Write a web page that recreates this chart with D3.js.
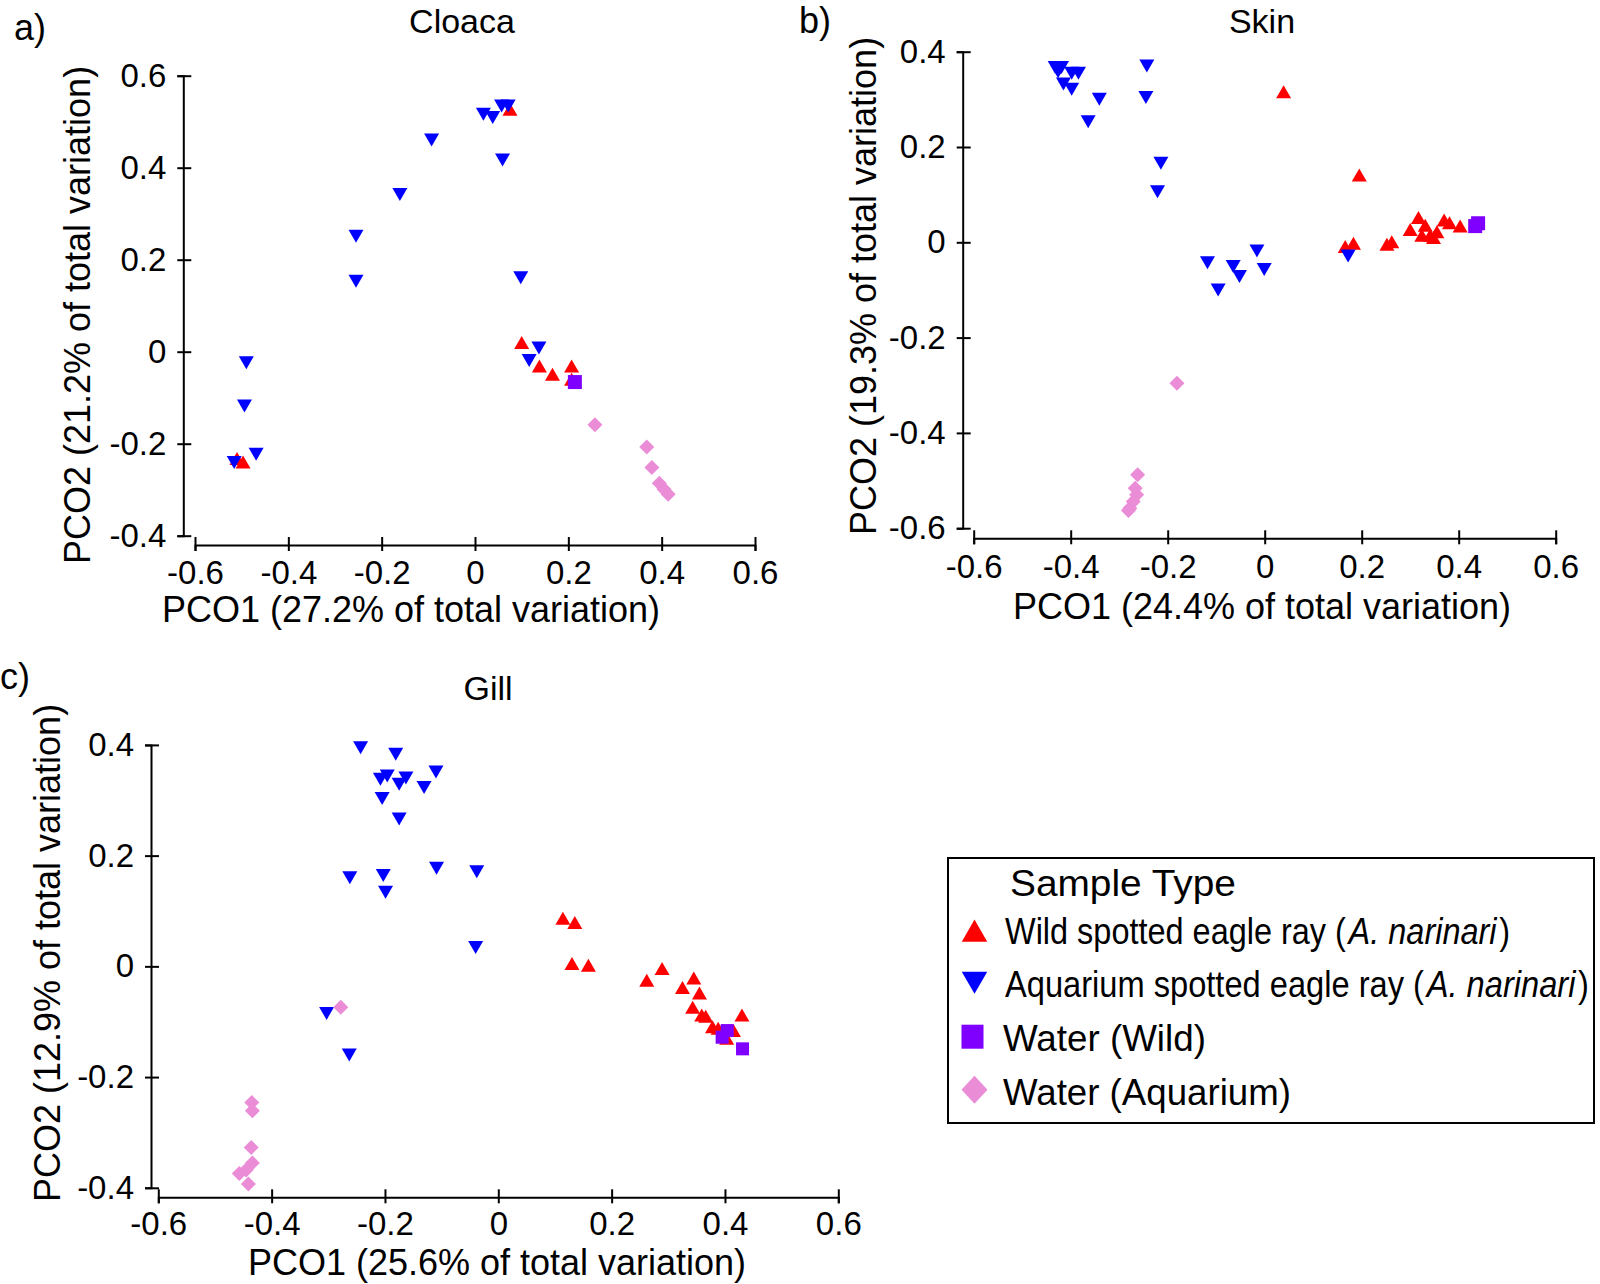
<!DOCTYPE html>
<html><head><meta charset="utf-8">
<script src="https://cdn.jsdelivr.net/npm/d3@7"></script>
<style>
html,body{margin:0;padding:0;background:#fff;}
svg{display:block;}
text{font-family:"Liberation Sans",Arial,Helvetica,sans-serif;fill:#000;}
</style></head>
<body>
<svg id="chart" width="1600" height="1284"></svg>
<script>
// ---------- DATA ----------
const groups = ["Wild spotted eagle ray", "Aquarium spotted eagle ray", "Water (Wild)", "Water (Aquarium)"];
const groupColors = ["#ff0000", "#0000ff", "#7f00ff", "#eb8cd7"];
const xTicks = [-0.6, -0.4, -0.2, 0, 0.2, 0.4, 0.6];
const yTicksCloaca = [-0.4, -0.2, 0, 0.2, 0.4, 0.6];
const yTicksSkin = [-0.6, -0.4, -0.2, 0, 0.2, 0.4];
const yTicksGill = [-0.4, -0.2, 0, 0.2, 0.4];

const cloacaWild = [[0.075,0.527],[-0.51,-0.232],[-0.497,-0.24],[0.1,0.02],[0.138,-0.031],[0.166,-0.049],[0.207,-0.031],[0.207,-0.06]];
const cloacaAquarium = [[-0.093,0.46],[-0.161,0.342],[-0.255,0.251],[-0.255,0.153],[0.018,0.516],[0.038,0.509],[0.057,0.534],[0.071,0.534],[0.059,0.417],[0.098,0.161],[-0.49,-0.024],[-0.494,-0.118],[-0.469,-0.223],[-0.516,-0.241],[0.137,0.008],[0.116,-0.019]];
const cloacaWaterWild = [[0.214,-0.066]];
const cloacaWaterAquarium = [[0.257,-0.159],[0.368,-0.207],[0.379,-0.252],[0.395,-0.286],[0.405,-0.299],[0.414,-0.31]];

const skinWild = [[0.039,0.316],[0.195,0.141],[0.166,-0.009],[0.183,-0.002],[0.252,-0.004],[0.262,0.001],[0.3,0.027],[0.317,0.052],[0.331,0.036],[0.324,0.015],[0.341,0.015],[0.348,0.01],[0.355,0.022],[0.37,0.047],[0.381,0.041],[0.403,0.034]];
const skinAquarium = [[-0.432,0.367],[-0.419,0.367],[-0.426,0.358],[-0.398,0.355],[-0.384,0.355],[-0.415,0.332],[-0.398,0.321],[-0.341,0.3],[-0.364,0.253],[-0.243,0.37],[-0.245,0.304],[-0.214,0.166],[-0.221,0.106],[-0.118,-0.043],[-0.096,-0.1],[-0.065,-0.051],[-0.052,-0.072],[-0.016,-0.018],[-0.001,-0.057],[0.172,-0.029]];
const skinWaterWild = [[0.434,0.034],[0.44,0.04]];
const skinWaterAquarium = [[-0.181,-0.296],[-0.262,-0.488],[-0.267,-0.516],[-0.264,-0.53],[-0.271,-0.544],[-0.278,-0.558],[-0.281,-0.563]];

const gillWild = [[0.114,0.087],[0.135,0.079],[0.13,0.005],[0.159,0.002],[0.262,-0.025],[0.289,-0.004],[0.325,-0.038],[0.345,-0.021],[0.355,-0.048],[0.343,-0.074],[0.359,-0.088],[0.366,-0.09],[0.378,-0.109],[0.388,-0.112],[0.415,-0.116],[0.403,-0.13],[0.43,-0.088]];
const gillAquarium = [[-0.243,0.395],[-0.181,0.383],[-0.11,0.351],[-0.208,0.338],[-0.196,0.344],[-0.163,0.34],[-0.175,0.329],[-0.131,0.323],[-0.205,0.303],[-0.175,0.266],[-0.262,0.16],[-0.203,0.164],[-0.199,0.134],[-0.109,0.177],[-0.038,0.171],[-0.04,0.034],[-0.303,-0.085],[-0.263,-0.16]];
const gillWaterWild = [[0.404,-0.116],[0.395,-0.128],[0.431,-0.149]];
const gillWaterAquarium = [[-0.278,-0.074],[-0.435,-0.246],[-0.434,-0.261],[-0.436,-0.327],[-0.434,-0.355],[-0.445,-0.368],[-0.457,-0.374],[-0.441,-0.393]];

// ---------- LAYOUT ----------
const svg = d3.select("#chart");
const panels = [
  {label:"a)", title:"Cloaca", xTitle:"PCO1 (27.2% of total variation)", yTitle:"PCO2 (21.2% of total variation)",
   yTicks:yTicksCloaca, yDomain:[-0.4,0.6], xRange:[195,755], yRange:[535.7,75.7], axisX:183.3, axisY:545,
   data:[cloacaWild,cloacaAquarium,cloacaWaterWild,cloacaWaterAquarium], sq:14,
   labelPos:[14,40], titlePos:[462,33], xTitlePos:[411,622], yTitlePos:[77,315], xPad:10},
  {label:"b)", title:"Skin", xTitle:"PCO1 (24.4% of total variation)", yTitle:"PCO2 (19.3% of total variation)",
   yTicks:yTicksSkin, yDomain:[-0.6,0.4], xRange:[973.7,1555.7], yRange:[528.2,51.7], axisX:962.7, axisY:538.3,
   data:[skinWild,skinAquarium,skinWaterWild,skinWaterAquarium], sq:14,
   labelPos:[799,33], titlePos:[1262,33], xTitlePos:[1262,619], yTitlePos:[863,286], xPad:10},
  {label:"c)", title:"Gill", xTitle:"PCO1 (25.6% of total variation)", yTitle:"PCO2 (12.9% of total variation)",
   yTicks:yTicksGill, yDomain:[-0.4,0.4], xRange:[158.3,838.3], yRange:[1187.8,744.9], axisX:151, axisY:1197.3,
   data:[gillWild,gillAquarium,gillWaterWild,gillWaterAquarium], sq:13,
   labelPos:[0,689], titlePos:[488,700], xTitlePos:[497,1275], yTitlePos:[47,953], xPad:8}
];

function fmt(d){ return d === 0 ? "0" : String(d); }

function markerPath(type, s){
  if (type === 0) { const w=15*s/2, h=13*s/2; return `M0,${-h}L${w},${h}L${-w},${h}Z`; }
  if (type === 1) { const w=15*s/2, h=13*s/2; return `M0,${h}L${w},${-h}L${-w},${-h}Z`; }
  if (type === 3) { const w=15*s/2, h=15*s/2; return `M0,${-h}L${w},0L0,${h}L${-w},0Z`; }
  return "";
}

panels.forEach(p => {
  const x = d3.scaleLinear().domain([-0.6,0.6]).range(p.xRange);
  const y = d3.scaleLinear().domain(p.yDomain).range(p.yRange);
  const g = svg.append("g");

  const ya = g.append("g").attr("transform",`translate(${p.axisX},0)`)
    .call(d3.axisLeft(y).tickValues(p.yTicks).tickFormat(fmt).tickSizeOuter(0).tickSize(6).tickPadding(11));
  ya.selectAll(".tick line").attr("x1",8).attr("x2",-6).attr("stroke-width",2);
  ya.select(".domain").attr("stroke-width",2);
  ya.selectAll(".tick text").attr("font-size",33).attr("font-family","Liberation Sans, Arial, sans-serif");

  const xa = g.append("g").attr("transform",`translate(0,${p.axisY})`)
    .call(d3.axisBottom(x).tickValues(xTicks).tickFormat(fmt).tickSizeOuter(0).tickSize(6).tickPadding(p.xPad));
  xa.selectAll(".tick line").attr("y1",-8).attr("y2",6).attr("stroke-width",2);
  xa.select(".domain").attr("stroke-width",2);
  xa.selectAll(".tick text").attr("font-size",33).attr("font-family","Liberation Sans, Arial, sans-serif");

  p.data.forEach((arr, gi) => {
    if (gi === 2) {
      g.selectAll(null).data(arr).enter().append("rect")
        .attr("x", d => x(d[0]) - p.sq/2).attr("y", d => y(d[1]) - p.sq/2)
        .attr("width", p.sq).attr("height", p.sq).attr("fill", groupColors[gi]);
    } else {
      g.selectAll(null).data(arr).enter().append("path")
        .attr("transform", d => `translate(${x(d[0])},${y(d[1])})`)
        .attr("d", markerPath(gi, 1)).attr("fill", groupColors[gi]);
    }
  });

  svg.append("text").attr("x",p.labelPos[0]).attr("y",p.labelPos[1]).attr("font-size",36).text(p.label);
  svg.append("text").attr("x",p.titlePos[0]).attr("y",p.titlePos[1]).attr("font-size",34).attr("text-anchor","middle").text(p.title);
  svg.append("text").attr("x",p.xTitlePos[0]).attr("y",p.xTitlePos[1]).attr("font-size",36).attr("text-anchor","middle").text(p.xTitle);
  svg.append("text").attr("transform",`translate(${p.yTitlePos[0]},${p.yTitlePos[1]}) rotate(-90)`)
    .attr("font-size",36).attr("text-anchor","middle").attr("dy","0.35em").text(p.yTitle);
});

// ---------- LEGEND ----------
const legendFont = "Lato, 'Open Sans', sans-serif";
const lg = svg.append("g");
lg.append("rect").attr("x",948).attr("y",858).attr("width",646).attr("height",265)
  .attr("fill","none").attr("stroke","#000").attr("stroke-width",2);

// place text parts one after another at natural widths, then scale the row horizontally to a target width
function legendText(parts, x0, y0, targetW, fontSize){
  const row = lg.append("g");
  let cursor = 0;
  parts.forEach((pt, k) => {
    const t = row.append("text").attr("x", cursor).attr("y", 0)
      .attr("font-size", fontSize).attr("font-family", legendFont)
      .attr("font-style", pt[1] ? "italic" : "normal").text(pt[0]);
    cursor += t.node().getComputedTextLength() + (k < parts.length - 1 ? 3 : 0);
  });
  row.attr("transform", `translate(${x0},${y0}) scale(${targetW / cursor},1)`);
}

legendText([["Sample Type",false]], 1010, 896, 226, 37);

const legendRows = [
  {y:944, my:930.6, w:505, parts:[["Wild spotted eagle ray (",false],["A. narinari",true],[")",false]]},
  {y:997, my:982.7, w:584, parts:[["Aquarium spotted eagle ray (",false],["A. narinari",true],[")",false]]},
  {y:1051, my:1036.7, w:203, parts:[["Water (Wild)",false]]},
  {y:1105, my:1089.8, w:288, parts:[["Water (Aquarium)",false]]}
];
legendRows.forEach((r, i) => {
  if (i === 2) {
    lg.append("rect").attr("x",972.5-11).attr("y",r.my-12).attr("width",22).attr("height",24).attr("fill",groupColors[i]);
  } else {
    lg.append("path").attr("transform",`translate(974.5,${r.my})`).attr("d", i===3 ? "M0,-14L13,0L0,14L-13,0Z" : markerPath(i, 1.7)).attr("fill",groupColors[i]);
  }
  legendText(r.parts, i >= 2 ? 1003 : 1005, r.y, r.w, 37);
});
</script>
</body></html>
